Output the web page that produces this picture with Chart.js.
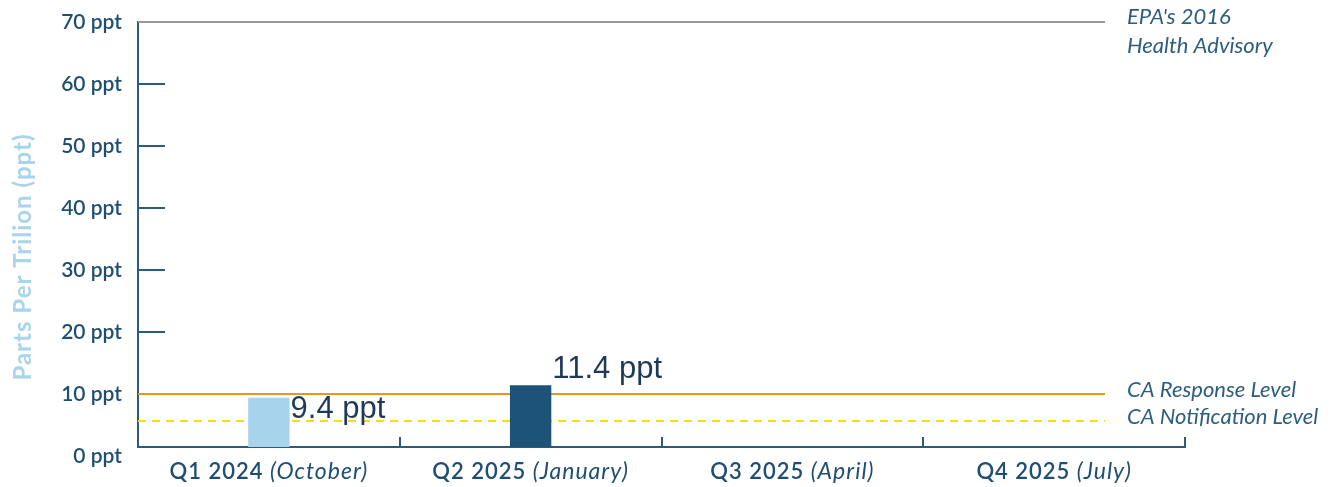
<!DOCTYPE html>
<html>
<head>
<meta charset="utf-8">
<script src="https://cdn.jsdelivr.net/npm/chart.js@4/dist/chart.umd.min.js"></script>
<style>
	html, body { margin: 0; padding: 0; background: #fff; }
	#wrap { width: 1329px; height: 487px; position: relative; }
</style>
</head>
<body>
<div id="wrap"><canvas id="chartContainer"></canvas></div>
<script>
// data
var quarters = ["Q1 2024", "Q2 2025", "Q3 2025", "Q4 2025"];
var months = ["(October)", "(January)", "(April)", "(July)"];
var values = [9.4, 11.4, null, null];
var valueLabels = ["9.4 ppt", "11.4 ppt", "", ""];
var barColors = ["#a7d3ec", "#1d5378"];
var yTicks = [0, 10, 20, 30, 40, 50, 60, 70];
var refValues = [70, 10, 5.6];
var refNames = [["EPA's 2016", "Health Advisory"], ["CA Response Level"], ["CA Notification Level"]];

var axisColor = "#2c5b7d";
var textColor = "#1f4e72";
var font = "Lato, 'Noto Sans', sans-serif";

// reference lines, ticks, axis title and labels
const decorations = {
	id: "decorations",
	beforeDatasetsDraw(chart) {
		const ctx = chart.ctx;
		const area = chart.chartArea;
		const y = chart.scales.y;
		const lineEnd = area.right - 80;
		const styles = [
			{ color: "#9a9a9a", width: 2, dash: [] },
			{ color: "#f0921e", width: 2, dash: [] },
			{ color: "#f8df00", width: 2, dash: [8, 6] },
		];
		ctx.save();
		// short ticks inside the y axis
		ctx.strokeStyle = axisColor;
		ctx.lineWidth = 2;
		yTicks.forEach((v) => {
			if (v <= 0 || v >= 70) return;
			const py = Math.round(y.getPixelForValue(v));
			ctx.beginPath();
			ctx.moveTo(area.left, py);
			ctx.lineTo(area.left + 27, py);
			ctx.stroke();
		});
		refValues.forEach((v, i) => {
			const py = Math.round(y.getPixelForValue(v));
			ctx.strokeStyle = styles[i].color;
			ctx.lineWidth = styles[i].width;
			ctx.setLineDash(styles[i].dash);
			ctx.beginPath();
			ctx.moveTo(area.left, py);
			ctx.lineTo(lineEnd, py);
			ctx.stroke();
		});
		ctx.restore();
	},
	afterDraw(chart) {
		const ctx = chart.ctx;
		const area = chart.chartArea;
		const x = chart.scales.x;
		const y = chart.scales.y;
		ctx.save();

		// category separators on the x axis
		ctx.strokeStyle = axisColor;
		ctx.lineWidth = 2;
		for (let i = 1; i <= quarters.length; i++) {
			const px = i < quarters.length ? Math.round((x.getPixelForValue(i - 1) + x.getPixelForValue(i)) / 2) : area.right;
			ctx.beginPath();
			ctx.moveTo(px, area.bottom);
			ctx.lineTo(px, area.bottom - 10);
			ctx.stroke();
		}

		// x labels: quarter upright, month italic
		ctx.fillStyle = textColor;
		ctx.textBaseline = "middle";
		ctx.letterSpacing = "1px";
		quarters.forEach((q, i) => {
			const a = q + " ";
			ctx.font = "600 22px " + font;
			const wa = ctx.measureText(a).width;
			ctx.font = "italic 23px " + font;
			const wb = ctx.measureText(months[i]).width;
			const left = x.getPixelForValue(i) - (wa + wb) / 2;
			ctx.textAlign = "left";
			ctx.font = "600 22px " + font;
			ctx.fillText(a, left, 472);
			ctx.font = "italic 23px " + font;
			ctx.fillText(months[i], left + wa, 472);
		});
		ctx.letterSpacing = "0px";

		// reference line names
		ctx.font = "italic 22px " + font;
		ctx.fillStyle = "#2d5d80";
		ctx.textAlign = "left";
		refNames.forEach((lines, i) => {
			const py = y.getPixelForValue(refValues[i]);
			const first = lines.length > 1 ? py - 5 : py - 4;
			lines.forEach((t, j) => {
				ctx.fillText(t, area.right - 58, first + j * 29);
			});
		});

		// axis title
		ctx.translate(23, 257);
		ctx.rotate(-Math.PI / 2);
		ctx.textAlign = "center";
		ctx.font = "bold 24px " + font;
		ctx.letterSpacing = "1px";
		ctx.fillStyle = "#a8d4ec";
		ctx.fillText("Parts Per Trilion (ppt)", 0, 0);
		ctx.restore();

		// value labels beside the bars
		ctx.save();
		ctx.font = "31px 'Liberation Sans', Arial, sans-serif";
		ctx.fillStyle = "#1f3a58";
		ctx.textAlign = "left";
		ctx.textBaseline = "alphabetic";
		const shift = [20, -7];
		chart.getDatasetMeta(0).data.forEach((bar, i) => {
			if (!valueLabels[i]) return;
			ctx.fillText(valueLabels[i], bar.x + bar.width / 2 + 1, bar.y + shift[i]);
		});
		ctx.restore();
	},
};

const ctx = document.getElementById("chartContainer");

new Chart(ctx, {
	type: "bar",
	data: {
		labels: quarters,
		datasets: [
			{
				data: values,
				backgroundColor: barColors,
				barPercentage: 0.158,
				categoryPercentage: 1,
			},
		],
	},
	options: {
		responsive: true,
		maintainAspectRatio: false,
		animation: false,
		layout: { padding: { top: 22, right: 144, left: 0, bottom: 0 } },
		plugins: {
			legend: { display: false },
			tooltip: { enabled: false },
		},
		scales: {
			x: {
				grid: { display: false },
				border: { display: true, color: axisColor, width: 2 },
				ticks: { display: false },
				afterFit: (scale) => {
					scale.height = 40;
				},
			},
			y: {
				min: 1.45,
				max: 70,
				grid: { display: false, drawTicks: false },
				border: { display: true, color: axisColor, width: 2 },
				afterBuildTicks: (scale) => {
					scale.ticks = yTicks.map((v) => ({ value: v }));
				},
				ticks: {
					padding: 16,
					color: textColor,
					font: { family: font, size: 21, weight: "600" },
					callback: (v) => v + " ppt",
				},
				afterFit: (scale) => {
					scale.width = 138;
					scale.paddingTop = 0;
					scale.paddingBottom = 0;
				},
			},
		},
	},
	plugins: [decorations],
});
</script>
</body>
</html>
